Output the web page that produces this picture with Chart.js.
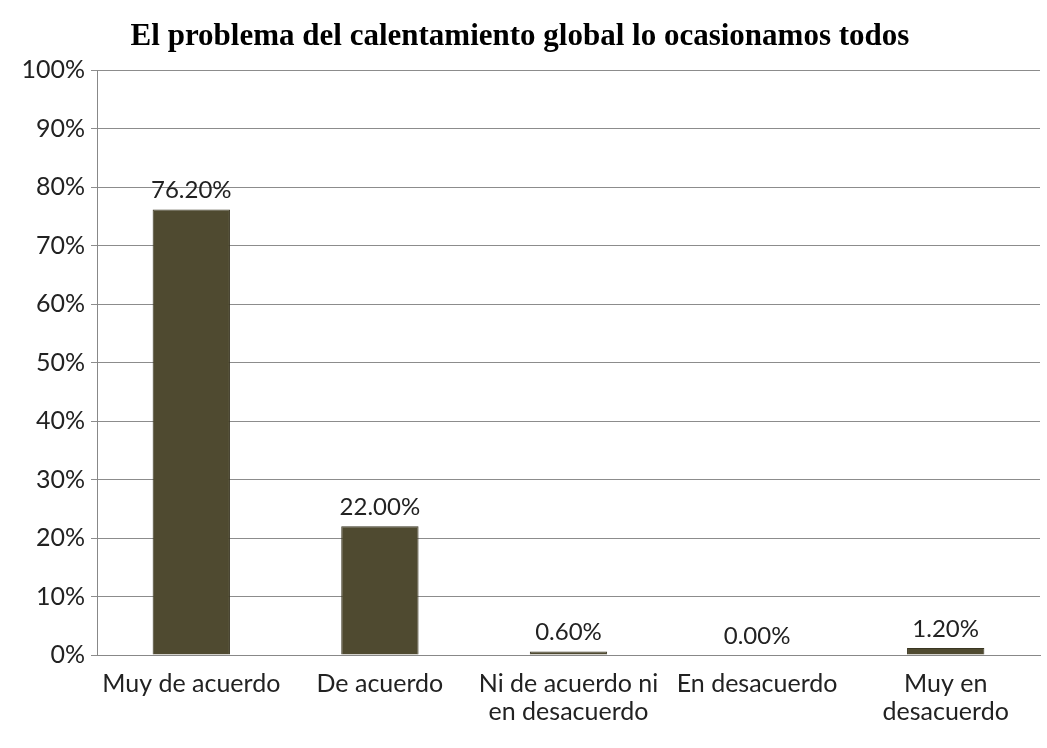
<!DOCTYPE html>
<html>
<head>
<meta charset="utf-8">
<script src="https://cdn.jsdelivr.net/npm/chart.js@4/dist/chart.umd.min.js"></script>
<style>
  body { margin: 0; background: #fff; }
</style>
</head>
<body>
<canvas id="chart" width="1047" height="748"></canvas>
<script>
const categories = [
  "Muy de acuerdo",
  "De acuerdo",
  ["Ni de acuerdo ni", "en desacuerdo"],
  "En desacuerdo",
  ["Muy en", "desacuerdo"],
];
const percentages = [76.2, 22.0, 0.6, 0.0, 1.2];
const tickValues = [0, 10, 20, 30, 40, 50, 60, 70, 80, 90, 100];

// value labels above each bar
const barLabels = {
  id: "barLabels",
  afterDatasetsDraw(chart) {
    const ctx = chart.ctx;
    const meta = chart.getDatasetMeta(0);
    ctx.save();
    ctx.font = "24px Lato";
    ctx.fillStyle = "#222";
    ctx.textAlign = "center";
    ctx.textBaseline = "bottom";
    meta.data.forEach((bar, i) => {
      ctx.fillText(percentages[i].toFixed(2) + "%", bar.x, bar.y - 7);
    });
    ctx.restore();
  },
};

new Chart(document.getElementById("chart"), {
  type: "bar",
  plugins: [barLabels],
  data: {
    labels: categories,
    datasets: [
      {
        data: percentages,
        backgroundColor: "#4f4a30",
        borderColor: "#3a3622",
        borderWidth: 1,
        barPercentage: 0.41,
        categoryPercentage: 1,
      },
    ],
  },
  options: {
    responsive: false,
    animation: false,
    layout: { padding: { right: 7 } },
    plugins: {
      legend: { display: false },
      tooltip: { enabled: false },
      title: {
        display: true,
        text: "El problema del calentamiento global lo ocasionamos todos",
        color: "#000",
        font: { family: "'Liberation Serif'", size: 31, weight: "bold" },
        padding: { top: 18, bottom: 15 },
      },
    },
    scales: {
      x: {
        grid: { display: false },
        border: { color: "#888" },
        ticks: {
          color: "#222",
          font: { family: "Lato", size: 25, lineHeight: 1.12 },
          padding: 7,
          maxRotation: 0,
          autoSkip: false,
        },
        afterFit(scale) { scale.height = 93; },
      },
      y: {
        min: 0,
        max: 100,
        afterBuildTicks(scale) {
          scale.ticks = tickValues.map((v) => ({ value: v }));
        },
        grid: { color: "#8c8c8c", tickLength: 6 },
        border: { color: "#888" },
        ticks: {
          color: "#222",
          font: { family: "Lato", size: 25 },
          padding: 6,
          callback: (v) => v + "%",
        },
        afterFit(scale) { scale.width = 97; },
      },
    },
  },
});
</script>
</body>
</html>
